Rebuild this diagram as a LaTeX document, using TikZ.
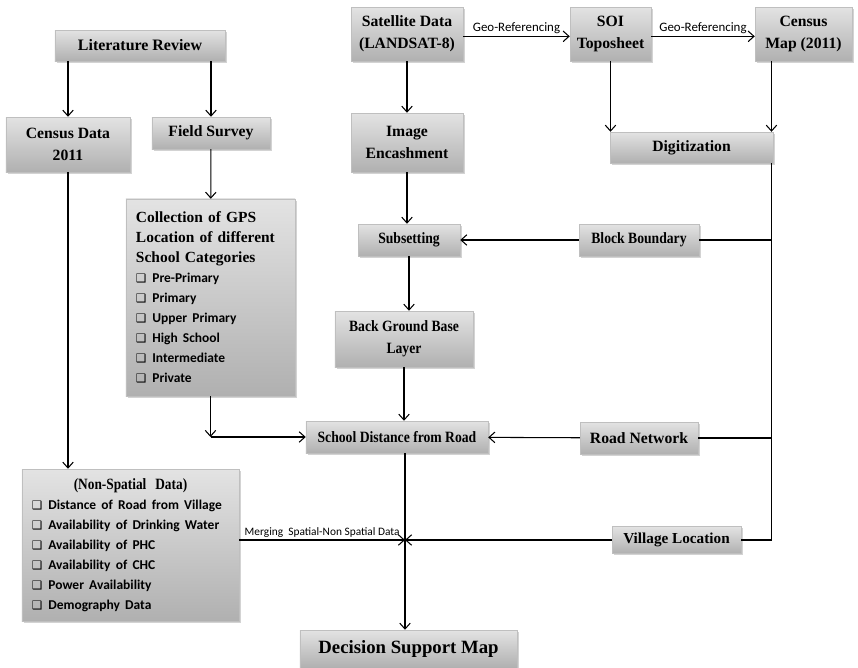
\documentclass[tikz,border=0pt]{standalone}
\usepackage{graphicx}
\usepackage{fontspec}
\setmainfont{Liberation Serif}
\newfontfamily\calibri{Carlito}
\newfontfamily\symfont{DejaVu Sans}
\usetikzlibrary{arrows.meta,shadows,calc}

% check-box bullet, list item font, condensed text
\newcommand{\chk}{{\symfont\fontsize{10}{10}\selectfont ❑}\hspace{5pt}}
\newcommand{\itm}{\calibri\bfseries\fontsize{11.5}{17}\selectfont}
\newcommand{\cnd}[1]{\scalebox{0.87}[1]{#1}}

\begin{document}
\begin{tikzpicture}[
  x=0.03cm, y=-0.03cm,
  every node/.style={font=\bfseries\fontsize{13.4}{19}\selectfont},
  box/.style={draw=gray!50, top color=gray!22, bottom color=gray!62,
              drop shadow={shadow xshift=1.3pt, shadow yshift=-1.3pt, opacity=0.35},
              inner sep=2pt, align=center},
  arr/.style={-{Straight Barb[length=5pt,width=9pt]}, line width=0.9pt},
  link/.style={line width=0.9pt},
  tag/.style={font=\calibri\fontsize{11}{12}\selectfont, above, inner sep=2pt},
]
\useasboundingbox (0,0) rectangle (858,668);

%% ── Left column ─────────────────────────────────────────────
\node[box, minimum width=5.10cm, minimum height=0.93cm,
      font=\bfseries\fontsize{13.6}{19}\selectfont] (lit) at (140,45.5) {Literature Review};
\node[box, minimum width=3.72cm, minimum height=1.65cm] (cen) at (68,144.5) {Census Data\\2011};
\node[box, minimum width=3.54cm, minimum height=0.96cm] (fld) at (211,133) {Field Survey};

\node[box, align=left, text width=4.47cm, inner xsep=0.3cm, minimum height=5.91cm,
      font=\bfseries\fontsize{13.2}{17}\selectfont] (gps) at (210.5,297.5)
  {Collection of GPS\\Location of different\\School Categories\\
   {\itm\chk Pre-Primary}\\
   {\itm\chk Primary}\\
   {\itm\chk Upper Primary}\\
   {\itm\chk High School}\\
   {\itm\chk Intermediate}\\
   {\itm\chk Private}};

\node[box, align=left, text width=5.91cm, inner xsep=0.3cm, minimum height=4.56cm,
      font=\bfseries\fontsize{13.4}{17}\selectfont] (nsd) at (130.5,545)
  {\makebox[5.91cm][c]{\scalebox{0.85}[1]{(Non-Spatial\ \ Data)}}\\
   {\itm\chk Distance of Road from Village}\\
   {\itm\chk Availability of Drinking Water}\\
   {\itm\chk Availability of PHC}\\
   {\itm\chk Availability of CHC}\\
   {\itm\chk Power Availability}\\
   {\itm\chk Demography Data}};

%% ── Middle column ───────────────────────────────────────────
\node[box, minimum width=3.36cm, minimum height=1.62cm] (sat) at (407,34) {Satellite Data\\(LANDSAT-8)};
\node[box, minimum width=3.36cm, minimum height=1.77cm] (img) at (407,142.5) {Image\\Encashment};
\node[box, minimum width=3.06cm, minimum height=0.96cm] (sub) at (409,240) {\cnd{Subsetting}};
\node[box, minimum width=4.14cm, minimum height=1.68cm] (bgl) at (404,339) {\cnd{Back Ground Base}\\\cnd{Layer}};
\node[box, minimum width=5.46cm, minimum height=0.96cm] (sdr) at (397,437) {\cnd{School Distance from Road}};
\node[box, minimum width=6.51cm, minimum height=1.14cm,
      font=\bfseries\fontsize{16}{19}\selectfont] (dsm) at (408.5,649) {Decision Support Map};

%% ── Right column ────────────────────────────────────────────
\node[box, minimum width=2.43cm, minimum height=1.62cm] (soi) at (610.5,34) {SOI\\Toposheet};
\node[box, minimum width=2.91cm, minimum height=1.62cm] (cmap) at (803.5,34) {Census\\Map (2011)};
\node[box, minimum width=4.89cm, minimum height=0.93cm] (dig) at (691.5,147.5) {Digitization};
\node[box, minimum width=3.60cm, minimum height=0.96cm] (blk) at (639,240) {\cnd{Block Boundary}};
\node[box, minimum width=3.54cm, minimum height=0.96cm] (road) at (639,438) {Road Network};
\node[box, minimum width=3.87cm, minimum height=0.81cm,
      font=\bfseries\fontsize{13}{19}\selectfont] (vil) at (676.5,540) {Village Location};

%% ── Connectors ──────────────────────────────────────────────
\draw[arr] (lit.south -| cen.north) -- (cen.north);
\draw[arr] (lit.south -| fld.north) -- (fld.north);
\draw[arr] (fld) -- (gps);
\draw[arr] (cen.south) -- (cen.south |- nsd.north);

\coordinate (gpsc) at (gps.south |- sdr.west);
\draw[arr] (gps.south) -- (gpsc);
\draw[arr] (gpsc) -- (sdr.west);

\draw[arr] ([yshift=-2pt]sat.east) -- ([yshift=-2pt]sat.east -| soi.west)
  node[tag, midway] {Geo-Referencing};
\draw[arr] ([yshift=-2pt]soi.east) -- ([yshift=-2pt]soi.east -| cmap.west)
  node[tag, midway] {Geo-Referencing};

\draw[arr] (sat) -- (img);
\draw[arr] (img.south) -- (img.south |- sub.north);
\draw[arr] (sub.south) -- (sub.south |- bgl.north);
\draw[arr] (bgl.south) -- (bgl.south |- sdr.north);

\draw[arr] (soi.south) -- (soi.south |- dig.north);
\draw[arr] ([xshift=-1.5pt]dig.north east |- cmap.south) -- ([xshift=-1.5pt]dig.north east);

% bus on the right
\coordinate (bus) at ([xshift=-1.5pt]dig.south east |- vil.east);
\draw[link] ([xshift=-1.5pt]dig.south east) -- (bus) -- (vil.east);
\draw[link] (blk.east) -- (blk.east -| bus);
\draw[link] (road.east) -- (road.east -| bus);
\draw[arr] (blk) -- (sub);
\draw[arr] (road) -- (sdr);

% merging point
\coordinate (mrg) at (405,540);
\draw[link] (sdr.south -| mrg) -- (mrg);
\draw[arr] (mrg) -- (mrg |- dsm.north);
\draw[arr] (nsd.east |- mrg) -- (mrg)
  node[tag, midway, font=\calibri\fontsize{9.7}{11}\selectfont] {Merging\ \ Spatial-Non\ Spatial Data};
\draw[arr] (vil.west) -- (mrg);

\end{tikzpicture}
\end{document}
